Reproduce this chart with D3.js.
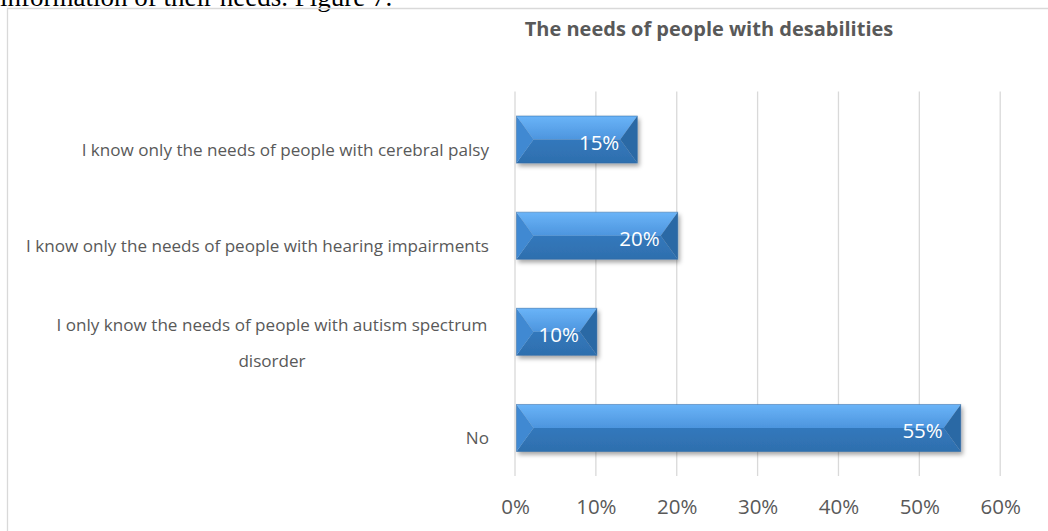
<!DOCTYPE html>
<html>
<head>
<meta charset="utf-8">
<script src="https://cdn.jsdelivr.net/npm/d3@7"></script>
<style>
  html, body { margin: 0; padding: 0; background: #ffffff; }
  svg { display: block; }
</style>
</head>
<body>
<svg id="chart" width="1048" height="531"></svg>
<script>
// ---- data ----
const categories = [
  "I know only the needs of people with cerebral palsy",
  "I know only the needs of people with hearing impairments",
  "I only know the needs of people with autism spectrum disorder",
  "No"
];
const categoryLines = [
  ["I know only the needs of people with cerebral palsy"],
  ["I know only the needs of people with hearing impairments"],
  ["I only know the needs of people with autism spectrum", "disorder"],
  ["No"]
];
const values = [0.15, 0.20, 0.10, 0.55];
const valueLabels = ["15%", "20%", "10%", "55%"];
const xTicks = [0, 0.1, 0.2, 0.3, 0.4, 0.5, 0.6];
const xTickLabels = ["0%", "10%", "20%", "30%", "40%", "50%", "60%"];
const chartTitle = "The needs of people with desabilities";
const pageText = "information of their needs. Figure 7.";

// ---- drawing ----
const svg = d3.select("#chart");
const FONT = "'Open Sans', 'Noto Sans', sans-serif";
const GRAY = "#595959";

// defs
const defs = svg.append("defs");
const topGrad = defs.append("linearGradient").attr("id", "topFace")
  .attr("x1", 0).attr("y1", 0).attr("x2", 0).attr("y2", 1);
topGrad.append("stop").attr("offset", "0%").attr("stop-color", "#6ab4f8");
topGrad.append("stop").attr("offset", "100%").attr("stop-color", "#4d95de");
const botGrad = defs.append("linearGradient").attr("id", "botFace")
  .attr("x1", 0).attr("y1", 0).attr("x2", 0).attr("y2", 1);
botGrad.append("stop").attr("offset", "0%").attr("stop-color", "#3378bc");
botGrad.append("stop").attr("offset", "100%").attr("stop-color", "#2e6fae");
const shadow = defs.append("filter").attr("id", "shadow")
  .attr("x", "-10%").attr("y", "-30%").attr("width", "130%").attr("height", "180%");
shadow.append("feDropShadow").attr("dx", 2).attr("dy", 3)
  .attr("stdDeviation", 2.2).attr("flood-color", "#000").attr("flood-opacity", 0.35);

// page text (cut off at top, as in the source document)
svg.append("text")
  .attr("x", 0).attr("y", 6)
  .attr("font-family", "'Liberation Serif', 'Times New Roman', serif")
  .attr("font-size", 27)
  .attr("fill", "#000")
  .text(pageText);

// chart area border
svg.append("path")
  .attr("d", "M7.5,531 L7.5,8.5 L1048,8.5")
  .attr("fill", "none").attr("stroke", "#d9d9d9").attr("stroke-width", 1.3);

// scales
const x = d3.scaleLinear().domain([0, 0.6]).range([515, 1000.2]);
const y = d3.scaleBand().domain(categories).range([91.5, 476])
  .paddingInner(0.51).paddingOuter(0.255);

// gridlines
svg.append("g").selectAll("line").data(xTicks).join("line")
  .attr("x1", d => x(d)).attr("x2", d => x(d))
  .attr("y1", 91.5).attr("y2", 476)
  .attr("stroke", "#d9d9d9").attr("stroke-width", 1.3);

// x axis labels
const xAxis = d3.axisBottom(x).tickValues(xTicks)
  .tickFormat((d, i) => xTickLabels[i]).tickSize(0).tickPadding(0);
const gx = svg.append("g").attr("transform", "translate(0,476)").call(xAxis);
gx.select(".domain").remove();
gx.selectAll("text")
  .attr("dy", null).attr("y", 38)
  .attr("font-family", FONT).attr("font-size", 20.5)
  .attr("fill", GRAY);

// bars
const bevel = 17;
const bars = svg.append("g").selectAll("g").data(categories).join("g")
  .attr("filter", "url(#shadow)");
bars.each(function(c, i) {
  const g = d3.select(this);
  const x0 = x(0) + 1.5, x1 = x(values[i]) + 1;
  const y0 = y(c), h = y.bandwidth(), y1 = y0 + h, ym = y0 + h / 2;
  const b = Math.min(bevel, (x1 - x0) / 2);
  const poly = pts => "M" + pts.map(p => p.join(",")).join("L") + "Z";
  g.append("path").attr("d", poly([[x0, y0], [x1, y0], [x1 - b, ym], [x0 + b, ym]]))
    .attr("fill", "url(#topFace)");
  g.append("path").attr("d", poly([[x0 + b, ym], [x1 - b, ym], [x1, y1], [x0, y1]]))
    .attr("fill", "url(#botFace)");
  g.append("path").attr("d", poly([[x0, y0], [x0 + b, ym], [x0, y1]]))
    .attr("fill", "#3f89d2");
  g.append("path").attr("d", poly([[x1, y0], [x1, y1], [x1 - b, ym]]))
    .attr("fill", "#2b69a5");
  g.append("rect").attr("x", x0).attr("y", y0).attr("width", x1 - x0).attr("height", h)
    .attr("fill", "none").attr("stroke", "#2a64a0").attr("stroke-width", 0.8).attr("stroke-opacity", 0.6);
});

// value labels
svg.append("g").selectAll("text").data(categories).join("text")
  .attr("x", (c, i) => x(values[i]) - 17)
  .attr("y", c => y(c) + y.bandwidth() / 2 + 10)
  .attr("text-anchor", "end")
  .attr("font-family", FONT).attr("font-size", 20.5)
  .attr("fill", "#ffffff")
  .text((c, i) => valueLabels[i]);

// category labels
const catG = svg.append("g");
categories.forEach((c, i) => {
  const lines = categoryLines[i];
  const cy = y(c) + y.bandwidth() / 2;
  const t = catG.append("text")
    .attr("font-family", FONT).attr("font-size", 17.1)
    .attr("fill", GRAY).attr("text-anchor", "middle");
  if (lines.length === 1) {
    t.attr("text-anchor", "end").attr("x", 489).attr("y", cy + 16).text(lines[0]);
  } else {
    lines.forEach((ln, k) => {
      t.append("tspan").attr("x", 272).attr("y", cy - 1 + k * 36).text(ln);
    });
  }
});

// title
svg.append("text")
  .attr("x", 709).attr("y", 36)
  .attr("text-anchor", "middle")
  .attr("font-family", FONT).attr("font-size", 20).attr("font-weight", "bold")
  .attr("fill", GRAY)
  .text(chartTitle);
</script>
</body>
</html>
